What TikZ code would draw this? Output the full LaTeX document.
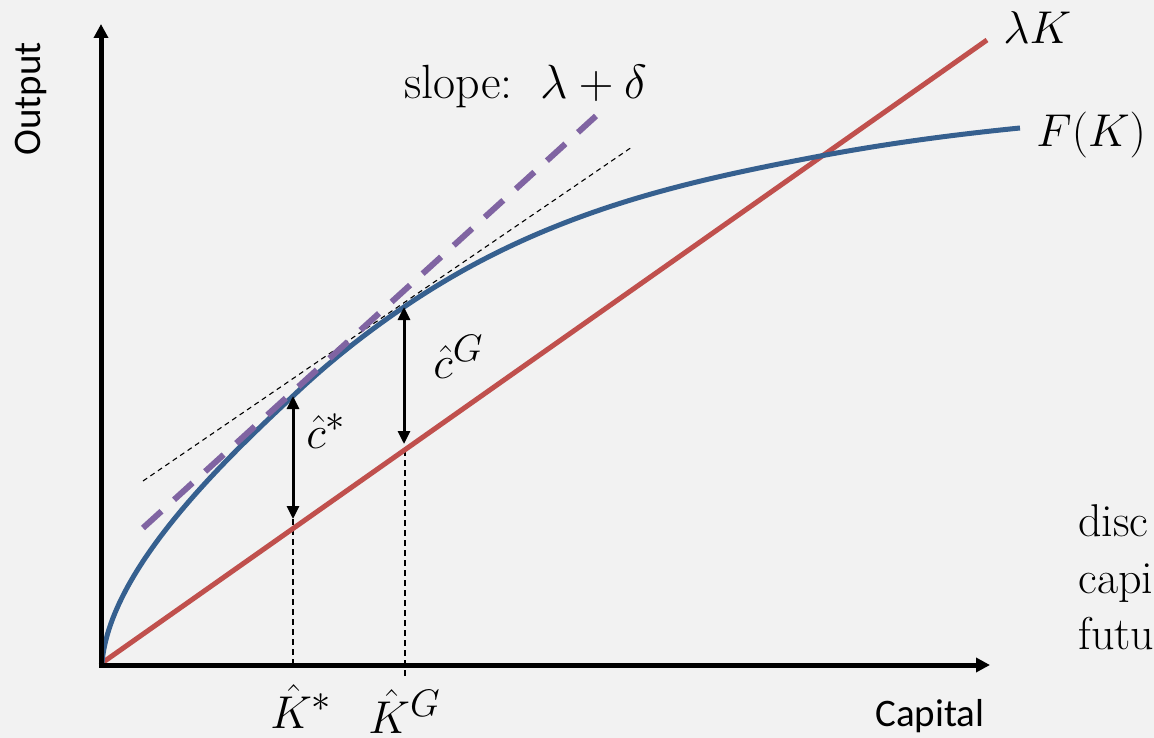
\documentclass[tikz,border=0pt]{standalone}
\usepackage{fontspec}
\newfontfamily\calibri{Carlito}
\usetikzlibrary{arrows.meta}
\definecolor{bgc}{HTML}{F2F2F2}
\definecolor{fblue}{HTML}{36608F}
\definecolor{lred}{HTML}{C0504D}
\definecolor{tpurple}{HTML}{8064A2}
\begin{document}
\begin{tikzpicture}[x=1pt,y=-1pt,
  lbl/.style={inner sep=0pt, anchor=base west, font=\Huge, scale=1.849, transform shape},
  biglbl/.style={inner sep=0pt, anchor=base west, font=\Huge, scale=1.93, transform shape},
  axislbl/.style={inner sep=0pt, font=\calibri\fontsize{39}{46}\selectfont},
  axisline/.style={line width=5pt, -{Triangle[length=14pt,width=14pt]}},
  fcurve/.style={line width=5pt, fblue},
  lline/.style={line width=5pt, lred},
  tangentA/.style={line width=6pt, tpurple, dash pattern=on 25pt off 17pt},
  tangentB/.style={line width=1.1pt, black, dash pattern=on 5pt off 4pt},
  guide/.style={line width=1.2pt, black, dash pattern=on 6pt off 4pt},
  gap/.style={line width=3pt, {Triangle[length=13pt,width=12pt]}-{Triangle[length=13pt,width=12pt]}}
]
\fill[bgc] (0,0) rectangle (1154,738);
\useasboundingbox (0,0) rectangle (1154,738);

% coordinates
\coordinate (O) at (101,665);
\coordinate (ytop) at (101,24);
\coordinate (xend) at (990,665);
\coordinate (Lstart) at (102,663);
\coordinate (Lend) at (987,40);
\coordinate (Cs) at (293,396);
\coordinate (Cslow) at (293,519);
\coordinate (Cg) at (404,307);
\coordinate (Cglow) at (404,444);
\coordinate (Ksaxis) at (293,665);
\coordinate (Kgaxis) at (405,676);
\coordinate (Kgred) at (405,450);
\coordinate (PA) at (143,528);
\coordinate (PB) at (596,116);
\coordinate (TA) at (143,481);
\coordinate (TB) at (632,147);
\coordinate (Cross) at (815,157);
\coordinate (Fend) at (1020,128);

% guides
\draw[guide] (Cslow) -- (Ksaxis);
\draw[guide] (Kgred) -- (Kgaxis);

% thin tangent
\draw[tangentB] (TA) -- (TB);

% curves
\draw[lline] (Lstart) -- (Lend);
\draw[fcurve] (Lstart) .. controls (110,568) and (227,458) .. (Cs)
  .. controls (330,360.8) and (367,332.2) .. (Cg)
  .. controls (541,213.7) and (678,183) .. (Cross)
  .. controls (883.3,144) and (951.7,134.8) .. (Fend);

\draw[tangentA] (PA) -- (PB);

% axes
\draw[axisline] (O) -- (ytop);
\draw[axisline] ([xshift=-2.5pt]O) -- (xend);

% gap arrows
\draw[gap] (Cs) -- (Cslow);
\draw[gap] (Cg) -- (Cglow);

% labels
\node[biglbl] (slope) at (404,99) {slope:\hspace{0.58em}$\lambda+\delta$};
\node[lbl] (lk) at (1003,44) {$\lambda K$};
\node[lbl] (fk) at (1036,147) {$F(K)$};
\node[lbl] (cs) at (306,448) {$\hat{c}^{*}$};
\node[lbl] (cg) at (433,378) {$\hat{c}^{G}$};
\node[lbl] (ks) at (270,728) {$\hat{K}^{*}$};
\node[lbl] (kg) at (368,733) {$\hat{K}^{G}$};
\node[lbl] (t1) at (1078,536) {disc};
\node[lbl] (t2) at (1078,593) {capi};
\node[lbl] (t3) at (1078,649) {futu};
\node[axislbl, rotate=90] (ylab) at (31,99) {Output};
\node[axislbl] (xlab) at (930,716) {Capital};
\end{tikzpicture}
\end{document}
